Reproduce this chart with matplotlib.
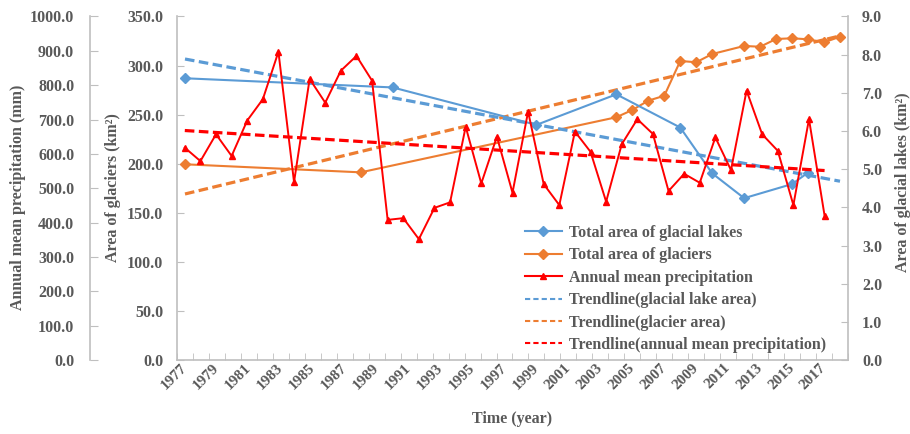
import numpy as np
import matplotlib
matplotlib.use('Agg')
import matplotlib.pyplot as plt
from matplotlib.lines import Line2D
from matplotlib.ticker import MultipleLocator, FormatStrFormatter

plt.rcParams['font.family'] = ['Liberation Serif', 'DejaVu Serif']
plt.rcParams['font.weight'] = 'bold'

TXT = '#595959'
AXC = '#BFBFBF'
C_LAKE = '#5B9BD5'
C_GLAC = '#ED7D31'
C_PREC = '#FF0000'

# glacial lake / glacier surveys (years on the category axis 1977-2018)
lake_years = [1977, 1990, 1999, 2004, 2008, 2010, 2012, 2015, 2016]
lake_area = [7.38, 7.14, 6.16, 6.96, 6.09, 4.89, 4.24, 4.61, 4.91]

glacier_years = [1977, 1988, 2004, 2005, 2006, 2007, 2008, 2009, 2010,
                 2012, 2013, 2014, 2015, 2016, 2017, 2018]
glacier_area = [199.4, 191.2, 247.3, 254.7, 264.2, 269.2, 304.6, 303.3, 311.7,
                319.9, 319.1, 327.0, 327.7, 326.7, 323.6, 329.3]

# annual precipitation, 42 values drawn on the secondary category axis (43 slots)
precip_mm = [618, 579, 657, 594, 697, 759, 897, 518, 818, 749,
             842, 885, 813, 408, 413, 352, 443, 459, 679, 514,
             650, 487, 723, 512, 451, 665, 606, 461, 628, 701,
             658, 492, 542, 516, 648, 553, 784, 657, 609, 451,
             701, 420]

first_year, last_year = 1977, 2018
tick_years = list(range(1977, 2018, 2))

W_PX, H_PX = 910, 434
L, R, T, B = 177, 848, 16.4, 360.1
rect = [L / W_PX, 1 - B / H_PX, (R - L) / W_PX, (B - T) / H_PX]
FS = 11.5

fig = plt.figure(figsize=(W_PX / 100, H_PX / 100), dpi=100)

# glacier axis (main, left inner)
ax = fig.add_axes(rect)
ax.set_xlim(first_year - 0.5, last_year + 0.5)
ax.set_ylim(0, 350)
for s in ['top', 'right']:
    ax.spines[s].set_visible(False)
for s in ['left', 'bottom']:
    ax.spines[s].set_color(AXC)
    ax.spines[s].set_linewidth(1.2)
ax.yaxis.set_major_locator(MultipleLocator(50))
ax.yaxis.set_major_formatter(FormatStrFormatter('%.1f'))
ax.tick_params(axis='y', direction='in', length=5, pad=10, color=AXC,
               labelcolor=TXT, labelsize=FS)
ax.set_xticks(tick_years)
ax.set_xticklabels([str(y) for y in tick_years], rotation=45, ha='right',
                   va='center', rotation_mode='anchor')
ax.tick_params(axis='x', which='major', length=0, pad=4, labelcolor=TXT,
               labelsize=11)
ax.set_xticks(np.arange(first_year - 0.5, last_year + 1), minor=True)
ax.tick_params(axis='x', which='minor', direction='in', length=5, color=AXC)

# glacial lake axis (right)
ax2 = ax.twinx()
ax2.set_ylim(0, 9)
for s in ['top', 'left', 'bottom']:
    ax2.spines[s].set_visible(False)
ax2.spines['right'].set_color(AXC)
ax2.spines['right'].set_linewidth(1.2)
ax2.yaxis.set_major_locator(MultipleLocator(1))
ax2.yaxis.set_major_formatter(FormatStrFormatter('%.1f'))
ax2.tick_params(axis='y', direction='in', length=5, pad=10, color=AXC,
                labelcolor=TXT, labelsize=FS)

# precipitation axis (outer left)
ax3 = fig.add_axes(rect)
ax3.patch.set_visible(False)
ax3.set_xlim(-0.5, 42.5)
ax3.set_ylim(0, 1000)
for s in ['top', 'right', 'bottom']:
    ax3.spines[s].set_visible(False)
ax3.spines['left'].set_position(('axes', (89.5 - L) / (R - L)))
ax3.spines['left'].set_color(AXC)
ax3.spines['left'].set_linewidth(1.2)
ax3.set_xticks([])
ax3.yaxis.set_major_locator(MultipleLocator(100))
ax3.yaxis.set_major_formatter(FormatStrFormatter('%.1f'))
ax3.tick_params(axis='y', direction='in', length=6, pad=11, color=AXC,
                labelcolor=TXT, labelsize=FS)

dash = (3, 1.4)

# series
ax2.plot(lake_years, lake_area, color=C_LAKE, lw=1.5, marker='D', ms=5.5, zorder=3)
ax.plot(glacier_years, glacier_area, color=C_GLAC, lw=1.5, marker='D', ms=5.5, zorder=3)
slots = np.arange(len(precip_mm))
ax3.plot(slots, precip_mm, color=C_PREC, lw=1.4, marker='^', ms=5, zorder=3)

# linear trendlines
span = np.array([first_year, last_year])
k, b0 = np.polyfit(lake_years, lake_area, 1)
ax2.plot(span, k * span + b0, color=C_LAKE, lw=2.3, dashes=dash, zorder=2)
k, b0 = np.polyfit(glacier_years, glacier_area, 1)
ax.plot(span, k * span + b0, color=C_GLAC, lw=2.3, dashes=dash, zorder=2)
pspan = np.array([slots[0], slots[-1]])
k, b0 = np.polyfit(slots, precip_mm, 1)
ax3.plot(pspan, k * pspan + b0, color=C_PREC, lw=2.3, dashes=dash, zorder=2)

# axis titles
fig.text(18 / W_PX, 1 - 197 / H_PX, 'Annual mean precipitation (mm)', rotation=90,
         ha='center', va='center', color=TXT, fontsize=FS)
fig.text(113 / W_PX, 1 - 188 / H_PX, 'Area of glaciers (km²)', rotation=90,
         ha='center', va='center', color=TXT, fontsize=FS)
fig.text(903 / W_PX, 1 - 182 / H_PX, 'Area of glacial lakes (km²)', rotation=90,
         ha='center', va='center', color=TXT, fontsize=FS)
fig.text(512 / W_PX, 1 - 419 / H_PX, 'Time (year)', ha='center', va='center',
         color=TXT, fontsize=FS)

handles = [
    Line2D([], [], color=C_LAKE, lw=1.5, marker='D', ms=5.5),
    Line2D([], [], color=C_GLAC, lw=1.5, marker='D', ms=5.5),
    Line2D([], [], color=C_PREC, lw=1.5, marker='^', ms=5),
    Line2D([], [], color=C_LAKE, lw=1.5, dashes=(2.5, 1.5)),
    Line2D([], [], color=C_GLAC, lw=1.5, dashes=(2.5, 1.5)),
    Line2D([], [], color=C_PREC, lw=1.5, dashes=(2.5, 1.5)),
]
labels = ['Total area of glacial lakes', 'Total area of glaciers',
          'Annual mean precipitation', 'Trendline(glacial lake area)',
          'Trendline(glacier area)', 'Trendline(annual mean precipitation)']
leg = ax3.legend(handles, labels, loc='upper left',
                 bbox_to_anchor=(525 / W_PX, 1 - 225 / H_PX),
                 bbox_transform=fig.transFigure, frameon=False, fontsize=FS,
                 handlelength=2.3, handletextpad=0.45, labelspacing=0.4,
                 borderpad=0, borderaxespad=0)
for t in leg.get_texts():
    t.set_color(TXT)

fig.savefig('out.png', dpi=100)
